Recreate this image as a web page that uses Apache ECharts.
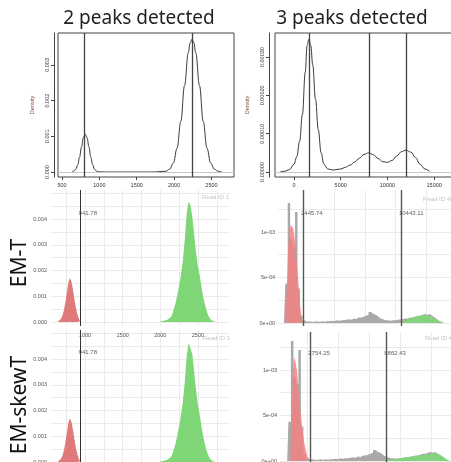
<!DOCTYPE html>
<html><head><meta charset="utf-8">
<script src="https://cdn.jsdelivr.net/npm/echarts@6/dist/echarts.min.js"></script>
<style>html,body{margin:0;padding:0;background:#fff}#c{width:451px;height:462px}</style>
</head><body><div id="c"></div>
<script>
// ---------- text ----------
const panelTitles = ['2 peaks detected', '3 peaks detected'];
const rowTitles = ['EM-T', 'EM-skewT'];
const readLabels = ['Read ID 1', 'Read ID 48'];

// ---------- top-left: density, 2 peaks ----------
const dens2X = [635,660,685,710,735,760,785,810,835,860,885,910,935,960,985,1100,1400,1700,1890,1940,1990,2040,2090,2140,2190,2215,2240,2265,2290,2340,2390,2440,2490,2540,2590,2640];
const dens2Y = [0.000007,0.000026,0.00008,0.0002,0.00042,0.0007,0.00096,0.00106,0.00096,0.0007,0.00042,0.0002,0.00008,0.000026,0.000007,0,0,0,0.00002,0.00008,0.00025,0.00067,0.00142,0.00242,0.00334,0.00362,0.00372,0.00362,0.00334,0.00242,0.00142,0.00067,0.00025,0.00008,0.00002,0];
const peaks2 = [801, 2240];
const dens2XTicks = [500, 1000, 1500, 2000, 2500];
const dens2YTicks = [0, 0.001, 0.002, 0.003];

// ---------- top-right: density, 3 peaks ----------
const dens3X = [-1500,-1000,-500,0,300,600,900,1200,1400,1600,1800,2000,2300,2600,2900,3200,3600,4200,5000,5500,6000,6500,7000,7500,8000,8500,9000,9500,10000,10500,11000,11500,12000,12500,13000,13500,14000,14500];
const dens3Y = [0,0.000002,0.000006,0.00002,0.00004,0.00008,0.00015,0.00026,0.00033,0.000347,0.00033,0.00028,0.00019,0.00011,0.00005,0.00002,0.000008,0.000005,0.000008,0.000012,0.000018,0.000026,0.000036,0.000046,0.00005,0.000045,0.000035,0.000027,0.000025,0.00003,0.000042,0.000053,0.000057,0.000052,0.000038,0.00002,0.000008,0.000002];
const peaks3 = [1600, 8000, 12000];
const dens3XTicks = [0, 5000, 10000, 15000];
const dens3YTicks = [0, 0.0001, 0.0002, 0.0003];

// ---------- Read ID 1 histograms ----------
const r1RedX = [640,660,680,700,720,740,760,780,800,820,840,860,880,900,920,940];
const emtR1Red = [0.00002,0.00005,0.00012,0.00025,0.00046,0.00078,0.00118,0.00155,0.00171,0.00158,0.00125,0.00088,0.00054,0.00028,0.00012,0.00004];
const skewR1Red = [0.00002,0.00005,0.00012,0.00024,0.00045,0.00077,0.00116,0.00153,0.00169,0.00156,0.00124,0.00087,0.00053,0.00027,0.00012,0.00004];
const r1GreenX = [2000,2050,2100,2150,2200,2225,2250,2275,2300,2325,2350,2375,2400,2425,2450,2475,2500,2525,2550,2575,2600,2625,2650,2675,2700,2725];
const emtR1Green = [0.00002,0.00005,0.0001,0.00022,0.0007,0.00105,0.0014,0.00185,0.0024,0.0032,0.0042,0.00467,0.00455,0.0041,0.0034,0.0027,0.00215,0.0018,0.0013,0.0009,0.0006,0.00035,0.00018,0.00008,0.00003,0.00001];
const skewR1Green = [0.00002,0.00005,0.0001,0.00022,0.00068,0.00102,0.00138,0.00182,0.00235,0.0031,0.0041,0.00462,0.00465,0.0042,0.0035,0.0028,0.0022,0.00182,0.00132,0.00092,0.0006,0.00036,0.00018,0.00008,0.00003,0.00001];
const emtThr1 = [941.78];
const skewThr1 = [941.78];
const r1XTicks = [750,1000,1250,1500,1750,2000,2250,2500,2750];
const r1XLabels = [1000,1500,2000,2500];
const r1YTicks = [0,0.0005,0.001,0.0015,0.002,0.0025,0.003,0.0035,0.004,0.0045,0.005];
const r1YLabels = [0,0.001,0.002,0.003,0.004];

// ---------- Read ID 48 histograms ----------
const r48GrayX = [900,1100,1300,1500,1700,1900,2100,2300,2500,2700,2900,3100,3300,3500,3700,3900,4100,4300,4500,4700,4900,5100,5300,5500,5700,5900,6100,6300,6500,6700,6900,7100,7300,7500,7700,7900,8100,8300,8500,8700,8900,9100,9300,9500,9700,9900,10100,10300,10500,10700,10900,11100,11300,11500,11700,11900,12100,12300,12500,12700,12900,13100,13300,13500,13700,13900,14100];
const r48Gray = [0,0.00043,0.00132,0.00092,0.00085,0.00122,0.00038,0.00008,0.00003,0.000015,0.00002,0.00001,0.000015,0.00002,0.00001,0.00002,0.000015,0.00002,0.00002,0.000025,0.00002,0.00003,0.000025,0.00003,0.00003,0.000035,0.00004,0.000035,0.00005,0.000045,0.00006,0.00006,0.00007,0.00008,0.00009,0.00012,0.0001,0.00009,0.00007,0.00005,0.00004,0.00003,0.00003,0.000025,0.00003,0.00003,0.000035,0.00004,0.00004,0.00005,0.00005,0.00006,0.00006,0.00007,0.00008,0.00008,0.00009,0.0001,0.00009,0.0001,0.00008,0.00006,0.00004,0.00002,0.00001,0.000005,0];
const emtR48RedX = [980,1050,1150,1250,1350,1450,1550,1650,1750,1850,1950,2050,2150,2250,2350,2400];
const emtR48Red = [0,0.00015,0.0005,0.00085,0.00102,0.00108,0.0011,0.00104,0.00095,0.0008,0.00065,0.00048,0.0003,0.00015,0.00005,0];
const emtR48GreenX = [10450,10800,11200,11600,12000,12400,12800,13200,13600,13900];
const emtR48Green = [0.000005,0.00003,0.00005,0.00007,0.00008,0.00009,0.00008,0.00005,0.00002,0];
const skewR48RedX = [1150,1250,1350,1450,1550,1700,1850,2000,2150,2300,2450,2600,2700];
const skewR48Red = [0,0.0004,0.001,0.00114,0.0011,0.00098,0.0007,0.0005,0.00032,0.00018,0.00008,0.00002,0];
const skewR48GreenX = [8870,9500,10000,10500,11000,11500,12000,12500,12900,13200,13500,13800,14000];
const skewR48Green = [0.000008,0.00002,0.00003,0.00004,0.00005,0.00006,0.00007,0.00008,0.00009,0.00007,0.00004,0.00001,0];
const emtThr48 = [2445.74, 10443.11];
const skewThr48 = [2754.25, 8862.43];
const r48XTicks = [2500,5000,7500,10000,12500,15000];
const r48YTicks = [0,0.00025,0.0005,0.00075,0.001,0.00125];
const r48YLabels = [0,0.0005,0.001];

// ---------- helpers ----------
const pairs = (xs, ys) => xs.map((x, i) => [x, ys[i]]);
const TICKFONT = 'Liberation Sans';
const OB = {outerBoundsMode: 'none', containLabel: false};
const grids = [
  Object.assign({left: 58, top: 33, width: 176, height: 144, show: true, borderColor: '#444', borderWidth: 1}, OB),
  Object.assign({left: 275, top: 33, width: 190, height: 144, show: true, borderColor: '#444', borderWidth: 1}, OB),
  Object.assign({left: 50, top: 190, width: 180, height: 136}, OB),
  Object.assign({left: 278, top: 190, width: 182, height: 136}, OB),
  Object.assign({left: 50, top: 330, width: 180, height: 136}, OB),
  Object.assign({left: 280, top: 332, width: 180, height: 133}, OB)
];
const plain = v => String(v);
function rX(gi, min, max, ticks) {
  return {type: 'value', gridIndex: gi, min, max,
    axisLine: {show: false, onZero: false},
    axisTick: {show: true, inside: false, length: 3, lineStyle: {color: '#444'}, customValues: ticks},
    axisLabel: {customValues: ticks, fontSize: 5.5, color: '#333', margin: 5, fontFamily: TICKFONT, formatter: plain},
    splitLine: {show: false}};
}
function rY(gi, min, max, ticks, dec, offset) {
  return {type: 'value', gridIndex: gi, min, max, offset,
    name: 'Density', nameLocation: 'middle', nameGap: 19,
    nameTextStyle: {fontSize: 5.5, color: '#7a4b3c', fontFamily: TICKFONT},
    axisLine: {show: true, onZero: false, lineStyle: {color: '#444'}},
    axisTick: {show: true, inside: false, length: 3, lineStyle: {color: '#444'}, customValues: ticks},
    axisLabel: {customValues: ticks, rotate: 90, fontSize: 5.5, color: '#333', margin: 4, fontFamily: TICKFONT,
      formatter: v => v.toFixed(dec)},
    splitLine: {show: false}};
}
function gX(gi, min, max, ticks, labels) {
  return {type: 'value', gridIndex: gi, min, max,
    axisLine: {show: false, onZero: false},
    axisTick: {show: false, customValues: ticks},
    axisLabel: {show: !!labels, customValues: labels || [], fontSize: 5.5, color: '#555', margin: 6, fontFamily: TICKFONT, formatter: plain},
    splitLine: {show: true, lineStyle: {color: '#ebebeb', width: 1}}};
}
function gY(gi, min, max, ticks, labels, fmt) {
  return {type: 'value', gridIndex: gi, min, max,
    axisLine: {show: false, onZero: false},
    axisTick: {show: false, customValues: ticks},
    axisLabel: {customValues: labels, fontSize: 5.5, color: '#555', margin: 3, fontFamily: TICKFONT, formatter: fmt},
    splitLine: {show: true, lineStyle: {color: '#ebebeb', width: 1}}};
}
function area(gi, xs, ys, color, opacity, step) {
  return {type: 'line', xAxisIndex: gi, yAxisIndex: gi, data: pairs(xs, ys), step: step || false,
    showSymbol: false, symbol: 'none', silent: true,
    lineStyle: {width: 0}, areaStyle: {color, opacity}};
}
function vlines(gi, vals, color, width) {
  return {type: 'line', xAxisIndex: gi, yAxisIndex: gi, data: [], silent: true,
    markLine: {symbol: 'none', silent: true, animation: false, label: {show: false},
      lineStyle: {color, width, type: 'solid'}, data: vals.map(v => ({xAxis: v}))}};
}
function thrLabels(gi, vals, yv) {
  return {type: 'scatter', xAxisIndex: gi, yAxisIndex: gi, symbolSize: 0, silent: true,
    data: vals.map(v => [v, yv]),
    label: {show: true, position: 'right', distance: 0, offset: [-2, 0], fontSize: 6, color: '#333', fontFamily: TICKFONT,
      formatter: p => p.value[0].toFixed(2)}};
}
const sci = v => v === 0 ? '0e+00' : (v === 0.0005 ? '5e-04' : '1e-03');
const RED_L = '#e07a7a', GREEN_L = '#7fd677', RED_R = '#f28383', GREEN_R = '#7ed877', GRAY = '#a9a9a9';

const option = {
  animation: false,
  backgroundColor: '#fff',
  grid: grids,
  xAxis: [
    rX(0, 446, 2802, dens2XTicks),
    rX(1, -2034, 18300, dens3XTicks),
    gX(2, 535, 2926, r1XTicks, r1XLabels),
    gX(3, 408, 15265, r48XTicks, null),
    gX(4, 535, 2926, r1XTicks, r1XLabels),
    gX(5, 322, 14791, r48XTicks, null)
  ],
  yAxis: [
    rY(0, -0.00014, 0.003894, dens2YTicks, 3, 4),
    rY(1, -0.0000131, 0.0003629, dens3YTicks, 5, 6),
    gY(2, -0.000156, 0.005136, r1YTicks, r1YLabels, v => v.toFixed(3)),
    gY(3, -0.000033, 0.0014615, r48YTicks, r48YLabels, sci),
    gY(4, -0.000155, 0.005126, r1YTicks, r1YLabels, v => v.toFixed(3)),
    gY(5, -0.000044, 0.0014176, r48YTicks, r48YLabels, sci)
  ],
  series: [
    {type: 'line', xAxisIndex: 0, yAxisIndex: 0, data: pairs(dens2X, dens2Y), showSymbol: false, symbol: 'none',
      smooth: 0.4, smoothMonotone: 'x', lineStyle: {color: '#3a3a3a', width: 1},
      markLine: {symbol: 'none', silent: true, label: {show: false},
        data: [{yAxis: 0, lineStyle: {color: '#c8c8c8', width: 1, type: 'solid'}}]
          .concat(peaks2.map(v => ({xAxis: v, lineStyle: {color: '#444', width: 1.3, type: 'solid'}})))}},
    {type: 'line', xAxisIndex: 1, yAxisIndex: 1, data: pairs(dens3X, dens3Y), showSymbol: false, symbol: 'none',
      smooth: 0.4, smoothMonotone: 'x', lineStyle: {color: '#3a3a3a', width: 1},
      markLine: {symbol: 'none', silent: true, label: {show: false},
        data: [{yAxis: 0, lineStyle: {color: '#c8c8c8', width: 1, type: 'solid'}}]
          .concat(peaks3.map(v => ({xAxis: v, lineStyle: {color: '#444', width: 1.3, type: 'solid'}})))}},
    area(2, r1RedX, emtR1Red, RED_L, 1),
    area(2, r1GreenX, emtR1Green, GREEN_L, 1),
    vlines(2, emtThr1, '#333', 1),
    thrLabels(2, emtThr1, 0.00424),
    area(3, r48GrayX, r48Gray, GRAY, 1, 'middle'),
    area(3, emtR48RedX, emtR48Red, RED_R, 0.85),
    area(3, emtR48GreenX, emtR48Green, GREEN_R, 0.85),
    vlines(3, emtThr48, '#555', 1.4),
    thrLabels(3, emtThr48, 0.00121),
    area(4, r1RedX, skewR1Red, RED_L, 1),
    area(4, r1GreenX, skewR1Green, GREEN_L, 1),
    vlines(4, skewThr1, '#333', 1),
    thrLabels(4, skewThr1, 0.00427),
    area(5, r48GrayX, r48Gray, GRAY, 1, 'middle'),
    area(5, skewR48RedX, skewR48Red, RED_R, 0.85),
    area(5, skewR48GreenX, skewR48Green, GREEN_R, 0.85),
    vlines(5, skewThr48, '#555', 1.4),
    thrLabels(5, skewThr48, 0.001187)
  ],
  graphic: [
    {type: 'text', x: 139, y: 19, style: {text: panelTitles[0], fontSize: 19, fontFamily: 'Noto Sans', fill: '#222', align: 'center', verticalAlign: 'middle'}},
    {type: 'text', x: 352, y: 19, style: {text: panelTitles[1], fontSize: 19, fontFamily: 'Noto Sans', fill: '#222', align: 'center', verticalAlign: 'middle'}},
    {type: 'text', x: 20, y: 263, rotation: Math.PI / 2, style: {text: rowTitles[0], fontSize: 21, fontFamily: 'Noto Sans', fill: '#111', align: 'center', verticalAlign: 'middle'}},
    {type: 'text', x: 20, y: 405, rotation: Math.PI / 2, style: {text: rowTitles[1], fontSize: 21, fontFamily: 'Noto Sans', fill: '#111', align: 'center', verticalAlign: 'middle'}},
    {type: 'text', x: 202, y: 197, style: {text: readLabels[0], fontSize: 6, fontFamily: TICKFONT, fill: '#c4c4c4', verticalAlign: 'middle'}},
    {type: 'text', x: 423, y: 199, style: {text: readLabels[1], fontSize: 6, fontFamily: TICKFONT, fill: '#c4c4c4', verticalAlign: 'middle'}},
    {type: 'text', x: 203, y: 338, style: {text: readLabels[0], fontSize: 6, fontFamily: TICKFONT, fill: '#c4c4c4', verticalAlign: 'middle'}},
    {type: 'text', x: 425, y: 338, style: {text: readLabels[1], fontSize: 6, fontFamily: TICKFONT, fill: '#c4c4c4', verticalAlign: 'middle'}}
  ]
};
const chart = echarts.init(document.getElementById('c'));
chart.setOption(option);
</script>
</body></html>
